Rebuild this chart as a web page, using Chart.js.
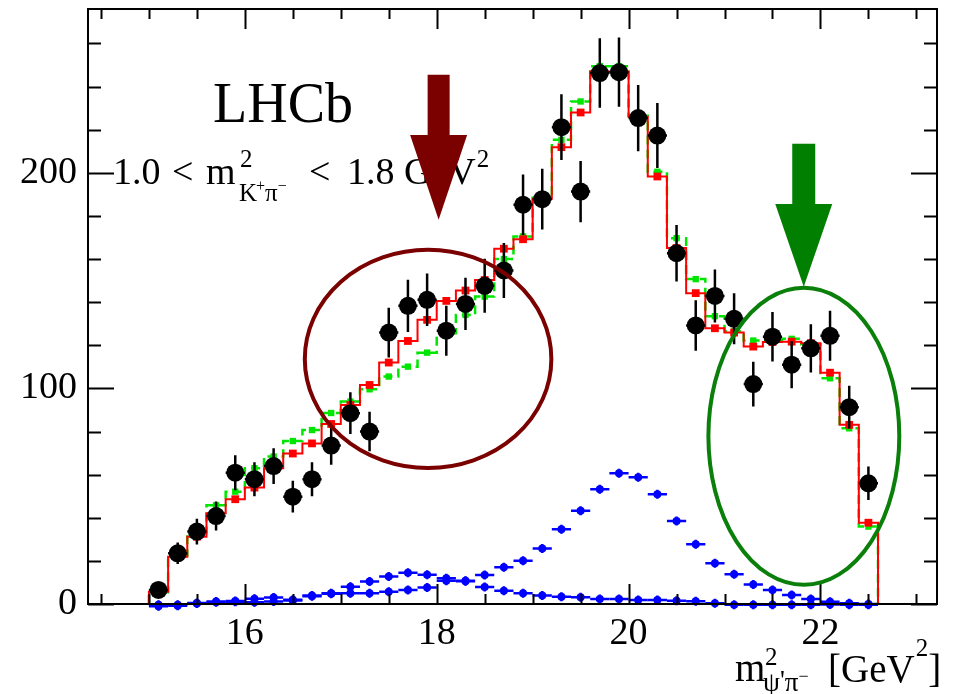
<!DOCTYPE html>
<html>
<head>
<meta charset="utf-8">
<title>m2(psi' pi) projection</title>
<script src="https://cdn.jsdelivr.net/npm/chart.js@4.4.1/dist/chart.umd.min.js"></script>
<style>
  html, body { margin: 0; padding: 0; background: #fff; }
  canvas { display: block; }
</style>
</head>
<body>
<canvas id="plot" width="953" height="694"></canvas>
<script>
// bin centres of the m2(psi' pi-) histogram, 0.2 GeV^2 wide
const binCenters = [15.1, 15.3, 15.5, 15.7, 15.9, 16.1, 16.3, 16.5, 16.7, 16.9,
                    17.1, 17.3, 17.5, 17.7, 17.9, 18.1, 18.3, 18.5, 18.7, 18.9,
                    19.1, 19.3, 19.5, 19.7, 19.9, 20.1, 20.3, 20.5, 20.7, 20.9,
                    21.1, 21.3, 21.5, 21.7, 21.9, 22.1, 22.3, 22.5];
const halfBin = 0.1;

// candidates per bin and their errors
const dataCounts = [6.5, 23.5, 33.6, 40.8, 60.9, 57.9, 64.0, 49.8, 57.9, 73.5,
                    88.5, 80.0, 125.9, 138.3, 141.1, 126.8, 139.2, 147.6, 154.7, 185.2,
                    187.8, 221.2, 191.3, 246.3, 246.7, 225.4, 217.3, 162.7, 129.2, 142.9,
                    132.3, 102.0, 124.0, 111.0, 118.6, 124.4, 91.3, 56.0];
const dataErrors = [2.8, 5.0, 6.0, 6.7, 8.1, 7.9, 8.3, 7.4, 7.9, 8.9,
                    9.7, 9.2, 11.5, 12.1, 12.2, 11.6, 12.1, 12.5, 12.8, 14.0,
                    14.1, 15.3, 14.2, 16.1, 16.1, 15.4, 15.1, 13.1, 11.7, 12.3,
                    11.8, 10.4, 11.5, 10.9, 11.2, 11.6, 9.9, 7.8];

// fit with Z(4430) (red) and without it (green dashed)
const fitWithZ = [5.7, 21.9, 31.2, 42.1, 48.6, 54.0, 63.0, 69.8, 74.5, 83.5,
                  92.3, 101.6, 112.0, 122.0, 131.8, 140.6, 145.4, 150.3, 164.8, 169.2,
                  188.0, 211.9, 228.0, 247.0, 247.0, 226.0, 198.3, 165.1, 144.2, 127.9,
                  125.9, 119.4, 121.5, 121.7, 121.0, 107.3, 83.1, 37.7];
const fitNoZ = [5.5, 22.5, 33.0, 45.8, 52.1, 63.0, 68.4, 75.6, 80.7, 88.6,
                93.9, 99.6, 105.5, 110.1, 116.6, 125.6, 134.1, 142.6, 160.0, 170.5,
                188.5, 215.3, 233.1, 249.5, 249.5, 226.5, 200.5, 169.7, 150.7, 133.5,
                126.5, 122.2, 122.5, 123.0, 120.5, 104.7, 81.5, 35.9];

// the two Z components (blue)
const zSmall = [-1.0, -0.8, 0.5, 1.2, 1.4, 2.4, 3.0, 2.0, 3.9, 5.0,
                8.0, 10.4, 12.7, 14.5, 13.6, 11.9, 10.6, 7.9, 6.2, 5.0,
                3.9, 3.4, 3.1, 2.3, 2.3, 1.9, 1.9, 1.5, 1.3, 0.3,
                -0.4, -0.4, -0.4, -0.4, -0.4, -0.2, -0.4, -0.4];
const zLarge = [-0.4, -0.3, 0.2, 0.8, 1.0, 0.8, 1.2, 1.6, 3.6, 4.8,
                5.0, 5.0, 5.7, 6.5, 7.7, 10.8, 10.8, 13.5, 17.0, 20.1,
                25.8, 34.7, 43.2, 53.2, 60.6, 58.8, 50.9, 38.5, 27.7, 18.9,
                13.8, 9.1, 6.5, 4.2, 2.3, 1.1, 0.3, 0.0];

const xTickLabels = [16, 18, 20, 22];
const yTickLabels = [0, 100, 200];

const SERIF = '"Liberation Serif", "Times New Roman", serif';

const pts = vals => binCenters.map((c, i) => ({ x: c, y: vals[i] }));

// outline of a histogram, closed down to zero at both ends
function outline(vals) {
  const out = [{ x: binCenters[0] - halfBin, y: 0 }];
  binCenters.forEach((c, i) => out.push({ x: c - halfBin, y: vals[i] }));
  const last = binCenters[binCenters.length - 1] + halfBin;
  out.push({ x: last, y: vals[vals.length - 1] });
  out.push({ x: last, y: 0 });
  return out;
}

// horizontal bin-width bars and vertical error bars under the markers
const errorBars = {
  id: 'errorBars',
  beforeDatasetDraw(chart, args) {
    const ds = chart.data.datasets[args.index];
    if (!ds.bars) return;
    const { ctx, scales: { x, y } } = chart;
    ctx.save();
    ctx.strokeStyle = ds.bars.color;
    ctx.lineWidth = ds.bars.width;
    ds.data.forEach((p, i) => {
      const px = x.getPixelForValue(p.x);
      const py = y.getPixelForValue(p.y);
      ctx.beginPath();
      ctx.moveTo(x.getPixelForValue(p.x - halfBin), py);
      ctx.lineTo(x.getPixelForValue(p.x + halfBin), py);
      if (ds.bars.err) {
        ctx.moveTo(px, y.getPixelForValue(p.y - ds.bars.err[i]));
        ctx.lineTo(px, y.getPixelForValue(p.y + ds.bars.err[i]));
      } else {
        ctx.moveTo(px, py - ds.bars.stub);
        ctx.lineTo(px, py + ds.bars.stub);
      }
      ctx.stroke();
    });
    ctx.restore();
  }
};

// ROOT style frame with ticks pointing inwards on all four sides
const frame = {
  id: 'frame',
  afterDatasetsDraw(chart) {
    const { ctx, chartArea: a, scales: { x, y } } = chart;
    ctx.save();
    ctx.strokeStyle = '#000';
    ctx.lineWidth = 2;
    ctx.strokeRect(a.left, a.top, a.right - a.left, a.bottom - a.top);
    ctx.beginPath();
    for (let v = 14.5; v <= 23.0; v += 0.5) {
      const px = Math.round(x.getPixelForValue(v)) + 0.5;
      const len = v % 2 === 0 ? 20 : 10;
      ctx.moveTo(px, a.bottom); ctx.lineTo(px, a.bottom - len);
      ctx.moveTo(px, a.top); ctx.lineTo(px, a.top + len);
    }
    for (let v = 0; v <= 260; v += 20) {
      const py = Math.round(y.getPixelForValue(v)) + 0.5;
      const len = v % 100 === 0 ? 26 : 13;
      ctx.moveTo(a.left, py); ctx.lineTo(a.left + len, py);
      ctx.moveTo(a.right, py); ctx.lineTo(a.right - len, py);
    }
    ctx.stroke();
    ctx.restore();
  }
};

function put(ctx, str, x, y, size) {
  ctx.font = size + 'px ' + SERIF;
  ctx.fillText(str, x, y);
  return x + ctx.measureText(str).width;
}

// labels, arrows and ellipses
const marks = {
  arrows: [
    { x: 18.02, top: 245.5, base: 217.6, tip: 178.2, shaft: 22, head: 57, color: '#7b0000' },
    { x: 21.826, top: 213.5, base: 185.6, tip: 147.2, shaft: 23, head: 57, color: '#007f00' }
  ],
  rings: [
    { x: 17.91, y: 113.7, rx: 1.285, ry: 50.6, color: '#7b0000' },
    { x: 21.827, y: 77.8, rx: 0.995, ry: 68.9, color: '#0a7f0a' }
  ]
};

const annotations = {
  id: 'annotations',
  afterDraw(chart) {
    const { ctx, scales: { x, y } } = chart;
    ctx.save();
    ctx.fillStyle = '#000';
    ctx.textAlign = 'left';
    ctx.textBaseline = 'alphabetic';

    put(ctx, 'LHCb', 213, 122, 56);

    // 1.0 < m2(K+ pi-) < 1.8 GeV2
    put(ctx, '1.0', 113, 184, 38);
    put(ctx, '<', 172, 184, 38);
    put(ctx, 'm', 206, 184, 38);
    put(ctx, '2', 240, 167, 25);
    let sx = put(ctx, 'K', 239, 201, 25);
    sx = put(ctx, '+', sx - 1, 191, 16);
    sx = put(ctx, 'π', sx, 201, 25);
    put(ctx, '−', sx, 191, 16);
    put(ctx, '<', 309, 184, 38);
    const gx = put(ctx, '1.8 GeV', 347, 184, 38);
    put(ctx, '2', gx + 1, 167, 25);

    // axis title m2(psi' pi-) [GeV2]
    put(ctx, 'm', 735, 681, 39);
    put(ctx, '2', 765, 665, 25);
    let tx = put(ctx, 'ψ', 763, 691, 27);
    tx = put(ctx, "'", tx, 689, 27);
    tx = put(ctx, 'π', tx, 691, 27);
    put(ctx, '−', tx, 682, 18);
    const bx = put(ctx, '[GeV', 828, 682, 39);
    const sx2 = put(ctx, '2', bx + 1, 656, 25);
    put(ctx, ']', sx2, 682, 39);

    marks.rings.forEach(r => {
      const cx = x.getPixelForValue(r.x), cy = y.getPixelForValue(r.y);
      ctx.beginPath();
      ctx.ellipse(cx, cy, x.getPixelForValue(r.x + r.rx) - cx, cy - y.getPixelForValue(r.y + r.ry), 0, 0, 2 * Math.PI);
      ctx.strokeStyle = r.color;
      ctx.lineWidth = 4;
      ctx.stroke();
    });

    marks.arrows.forEach(a => {
      const cx = x.getPixelForValue(a.x);
      const top = y.getPixelForValue(a.top), base = y.getPixelForValue(a.base), tip = y.getPixelForValue(a.tip);
      ctx.fillStyle = a.color;
      ctx.fillRect(cx - a.shaft / 2, top, a.shaft, base - top + 1);
      ctx.beginPath();
      ctx.moveTo(cx - a.head / 2, base);
      ctx.lineTo(cx + a.head / 2, base);
      ctx.lineTo(cx, tip);
      ctx.closePath();
      ctx.fill();
    });
    ctx.restore();
  }
};

Chart.defaults.font.family = SERIF;

new Chart(document.getElementById('plot'), {
  type: 'scatter',
  data: {
    datasets: [
      {
        label: 'Data',
        data: pts(dataCounts),
        order: 0,
        pointRadius: 9,
        pointBackgroundColor: '#000',
        pointBorderWidth: 0,
        bars: { color: '#000', width: 2.5, err: dataErrors }
      },
      {
        label: 'Fit with Z',
        data: pts(fitWithZ),
        order: 1,
        pointStyle: 'rect',
        pointRadius: 5.5,
        pointBackgroundColor: '#ff0000',
        pointBorderWidth: 0
      },
      {
        label: 'Fit with Z outline',
        type: 'line',
        data: outline(fitWithZ),
        order: 1,
        stepped: 'before',
        borderColor: '#ff0000',
        borderWidth: 2,
        pointRadius: 0,
        fill: false
      },
      {
        label: 'Fit without Z',
        data: pts(fitNoZ),
        order: 2,
        pointStyle: 'rect',
        pointRadius: 4.5,
        pointBackgroundColor: '#00e600',
        pointBorderWidth: 0
      },
      {
        label: 'Fit without Z outline',
        type: 'line',
        data: outline(fitNoZ),
        order: 2,
        stepped: 'before',
        borderColor: '#00e600',
        borderWidth: 2.5,
        borderDash: [9, 5],
        pointRadius: 0,
        fill: false
      },
      {
        label: 'Z component 1',
        data: pts(zSmall),
        order: 3,
        clip: false,
        pointRadius: 4,
        pointBackgroundColor: '#0000ff',
        pointBorderWidth: 0,
        bars: { color: '#0000ff', width: 2.5, stub: 4.5 }
      },
      {
        label: 'Z component 2',
        data: pts(zLarge),
        order: 3,
        clip: false,
        pointRadius: 4,
        pointBackgroundColor: '#0000ff',
        pointBorderWidth: 0,
        bars: { color: '#0000ff', width: 2.5, stub: 4.5 }
      }
    ]
  },
  options: {
    responsive: false,
    animation: false,
    layout: { padding: { left: 0, right: 16, top: 9, bottom: 0 } },
    plugins: { legend: { display: false }, tooltip: { enabled: false } },
    scales: {
      x: {
        type: 'linear',
        min: 14.365,
        max: 23.215,
        grid: { display: false, drawTicks: false },
        border: { display: false },
        ticks: { font: { size: 38 }, color: '#000', padding: 7, maxRotation: 0, autoSkip: false },
        afterBuildTicks: s => { s.ticks = xTickLabels.map(v => ({ value: v })); },
        afterFit: s => { s.height = 90; s.paddingLeft = 0; s.paddingRight = 0; }
      },
      y: {
        type: 'linear',
        min: 0,
        max: 276,
        grid: { display: false, drawTicks: false },
        border: { display: false },
        ticks: { font: { size: 38 }, color: '#000', padding: 11 },
        afterBuildTicks: s => { s.ticks = yTickLabels.map(v => ({ value: v })); },
        afterFit: s => { s.width = 88; s.paddingTop = 0; s.paddingBottom = 0; }
      }
    }
  },
  plugins: [errorBars, frame, annotations]
});
</script>
</body>
</html>
